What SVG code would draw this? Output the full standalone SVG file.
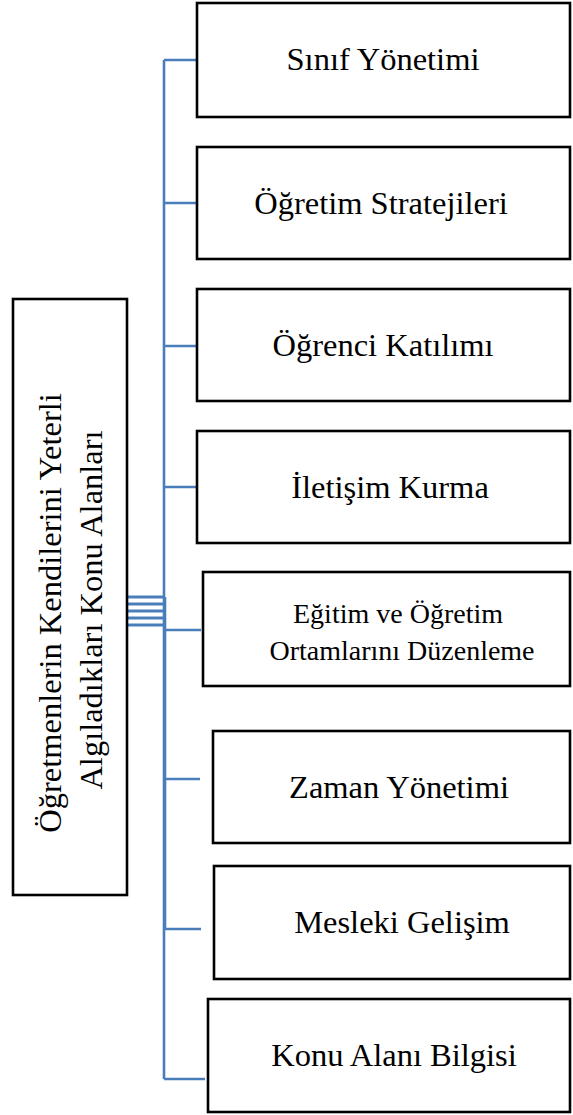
<svg xmlns="http://www.w3.org/2000/svg" width="573" height="1115" viewBox="0 0 573 1115">
  <style>
    .box { fill: #ffffff; stroke: #000000; stroke-width: 2.6; }
    .lbl { font-family: "Liberation Serif", "Times New Roman", serif; font-size: 32.5px; fill: #000000; text-anchor: middle; }
    .lbl2 { font-size: 28px; }
    .conn { fill: none; stroke: #4a7ebb; stroke-width: 2.6; }
    .stub { stroke-width: 3; }
  </style>

  <!-- connectors -->
  <g id="connectors">
    <!-- short stubs leaving the root box -->
    <path class="conn stub" d="M127 597H165M127 604H165M127 611H165M127 618H165M127 625H165"/>
    <!-- spine -->
    <path class="conn" d="M164 60V1079"/>
    <path class="conn" d="M165 597V929"/>
    <!-- branches to each topic -->
    <path class="conn" d="M164 60H197"/>
    <path class="conn" d="M164 203H197"/>
    <path class="conn" d="M164 346H197"/>
    <path class="conn" d="M164 487H197"/>
    <path class="conn" d="M164 630H201"/>
    <path class="conn" d="M164 779H200"/>
    <path class="conn" d="M164 929H201"/>
    <path class="conn" d="M164 1079H205"/>
  </g>

  <!-- root node, vertical title -->
  <g id="root">
    <rect class="box" x="13" y="299" width="114" height="596"/>
    <text class="lbl" transform="translate(61 613) rotate(-90)" x="0" y="0">Öğretmenlerin Kendilerini Yeterli</text>
    <text class="lbl" transform="translate(102 610) rotate(-90)" x="0" y="0">Algıladıkları Konu Alanları</text>
  </g>

  <g id="sinif-yonetimi">
    <rect class="box" x="197" y="3" width="373" height="114"/>
    <text class="lbl" x="383" y="70">Sınıf Yönetimi</text>
  </g>

  <g id="ogretim-stratejileri">
    <rect class="box" x="197" y="147" width="373" height="112"/>
    <text class="lbl" x="381" y="214">Öğretim Stratejileri</text>
  </g>

  <g id="ogrenci-katilimi">
    <rect class="box" x="197" y="289" width="373" height="112"/>
    <text class="lbl" x="383" y="356">Öğrenci Katılımı</text>
  </g>

  <g id="iletisim-kurma">
    <rect class="box" x="197" y="431" width="373" height="112"/>
    <text class="lbl" x="390" y="498">İletişim Kurma</text>
  </g>

  <g id="egitim-ortamlari">
    <rect class="box" x="203" y="572" width="367" height="114"/>
    <text class="lbl lbl2" x="398" y="623">Eğitim ve Öğretim</text>
    <text class="lbl lbl2" x="402" y="660">Ortamlarını Düzenleme</text>
  </g>

  <g id="zaman-yonetimi">
    <rect class="box" x="213" y="731" width="357" height="112"/>
    <text class="lbl" x="399" y="798">Zaman Yönetimi</text>
  </g>

  <g id="mesleki-gelisim">
    <rect class="box" x="214" y="866" width="356" height="113"/>
    <text class="lbl" x="402" y="933">Mesleki Gelişim</text>
  </g>

  <g id="konu-alani-bilgisi">
    <rect class="box" x="208" y="999" width="362" height="113"/>
    <text class="lbl" x="394" y="1066">Konu Alanı Bilgisi</text>
  </g>
</svg>
